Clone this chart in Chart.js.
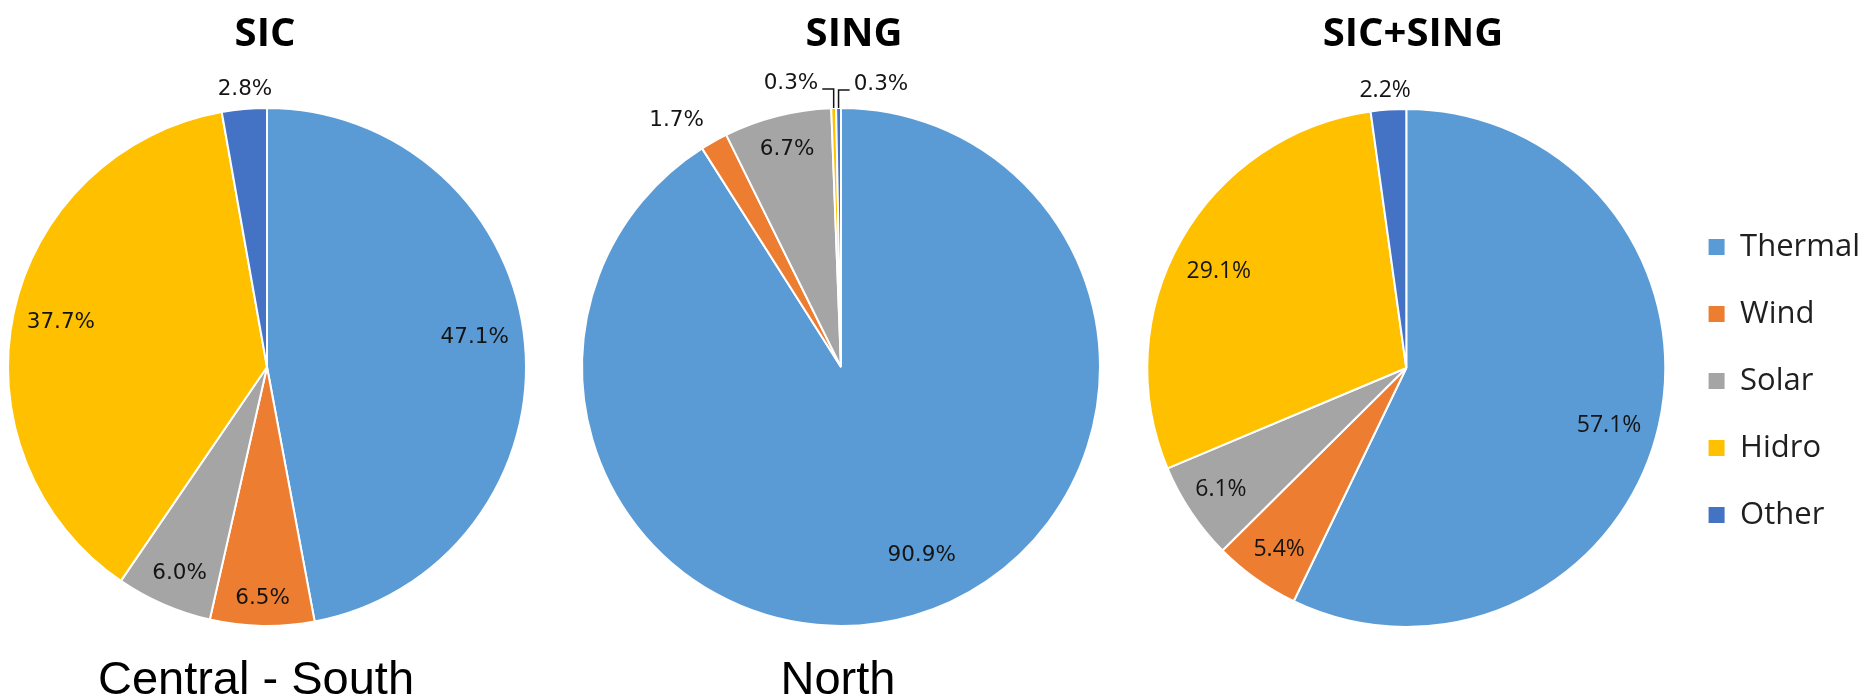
<!DOCTYPE html>
<html>
<head>
<meta charset="utf-8">
<title>Generation mix by system</title>
<script src="https://cdn.jsdelivr.net/npm/chart.js@4.4.1/dist/chart.umd.min.js"></script>
<style>
  body { margin: 0; background: #fff; }
  #wrap { position: relative; width: 1870px; height: 697px; overflow: hidden; }
  #wrap canvas { position: absolute; left: 0; top: 0; }
  .title { position: absolute; top: 11px; width: 300px; text-align: center;
           font: 700 40px/40px 'Open Sans', sans-serif; color: #000; }
  .region { position: absolute; top: 654px; width: 400px; text-align: center;
            font: 47px/47px 'Liberation Sans', Arial, sans-serif; color: #000; }
</style>
</head>
<body>
<div id="wrap">
  <canvas id="sic" width="1870" height="697"></canvas>
  <canvas id="sing" width="1870" height="697"></canvas>
  <canvas id="total" width="1870" height="697"></canvas>
  <div class="title" style="left:115px">SIC</div>
  <div class="title" style="left:704px">SING</div>
  <div class="title" style="left:1263px">SIC+SING</div>
  <div class="region" style="left:56px">Central - South</div>
  <div class="region" style="left:638px">North</div>
</div>
<script>
  const categories = ['Thermal', 'Wind', 'Solar', 'Hidro', 'Other'];
  const sicShares = [47.1, 6.5, 6.0, 37.7, 2.8];
  const singShares = [90.9, 1.7, 6.7, 0.3, 0.3];
  const totalShares = [57.1, 5.4, 6.1, 29.1, 2.2];

  const sliceColors = ['#5B9BD5', '#ED7D31', '#A5A5A5', '#FFC000', '#4472C4'];

  // percentage labels: distance from centre as a fraction of the radius,
  // plus a small angular nudge (degrees) off the slice's middle
  const sliceLabels = {
    id: 'sliceLabels',
    afterDatasetsDraw(chart, args, opts) {
      const ctx = chart.ctx;
      const values = chart.data.datasets[0].data;
      const arcs = chart.getDatasetMeta(0).data;
      ctx.save();
      ctx.font = opts.font;
      ctx.fillStyle = '#141414';
      ctx.strokeStyle = '#141414';
      ctx.lineWidth = 1.5;
      ctx.textAlign = 'center';
      ctx.textBaseline = 'middle';
      arcs.forEach((arc, i) => {
        const p = arc.getProps(['x', 'y', 'startAngle', 'endAngle', 'outerRadius'], true);
        const mid = (p.startAngle + p.endAngle) / 2;
        const a = mid + opts.shift[i] * Math.PI / 180;
        const d = p.outerRadius * opts.radius[i];
        const lx = p.x + Math.cos(a) * d;
        const ly = p.y + Math.sin(a) * d;
        const text = values[i].toFixed(1) + '%';
        ctx.fillText(text, lx, ly);
        if (opts.leader && opts.leader[i]) {
          const ex = p.x + Math.cos(mid) * p.outerRadius;
          const ey = p.y + Math.sin(mid) * p.outerRadius;
          const half = ctx.measureText(text).width / 2 + 4;
          const end = lx < ex ? lx + half : lx - half;
          const hy = ly + 5;
          ctx.beginPath();
          ctx.moveTo(ex, ey);
          ctx.lineTo(ex, hy);
          ctx.lineTo(end, hy);
          ctx.stroke();
        }
      });
      ctx.restore();
    }
  };

  function pieChart(id, shares, padding, labelOpts, legend) {
    return new Chart(document.getElementById(id), {
      type: 'pie',
      data: {
        labels: categories,
        datasets: [{
          data: shares,
          backgroundColor: sliceColors,
          borderColor: '#fff',
          borderWidth: 2,
          clip: false
        }]
      },
      options: {
        responsive: false,
        animation: false,
        radius: 259,
        layout: { padding: padding },
        plugins: {
          tooltip: { enabled: false },
          legend: legend || { display: false },
          sliceLabels: labelOpts
        }
      },
      plugins: [sliceLabels]
    });
  }

  pieChart('sic', sicShares,
    { left: 7, right: 1343, top: 107, bottom: 70 },
    {
      font: '21.5px "DejaVu Sans"',
      radius: [0.81, 0.895, 0.865, 0.814, 1.077],
      shift: [-2.8, 0, -0.6, 0, 0.5]
    });

  pieChart('sing', singShares,
    { left: 581, right: 769, top: 107, bottom: 70 },
    {
      font: '21.5px "DejaVu Sans"',
      radius: [0.79, 1.145, 0.864, 1.11, 1.10],
      shift: [-7, -4.3, 0.3, -8.4, 8.6],
      leader: [false, false, false, true, true]
    });

  pieChart('total', totalShares,
    { left: 1140, right: 0, top: 169.5, bottom: 130.5 },
    {
      font: '23px "Open Sans"',
      radius: [0.814, 0.856, 0.856, 0.814, 1.073],
      shift: [3, -0.5, 0.5, -2.4, -0.4]
    },
    {
      display: true,
      position: 'right',
      align: 'end',
      labels: {
        boxWidth: 16,
        boxHeight: 16,
        padding: 36,
        color: '#1f1f1f',
        font: { family: 'Open Sans', size: 31 },
        generateLabels: chart => Chart.overrides.doughnut.plugins.legend.labels
          .generateLabels(chart).map(item => Object.assign(item, { lineWidth: 0 }))
      }
    });
</script>
</body>
</html>
